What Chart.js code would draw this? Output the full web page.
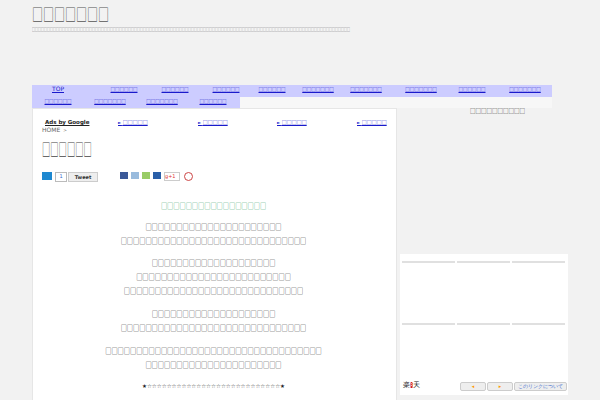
<!DOCTYPE html>
<html><head><meta charset="utf-8">
<script src="https://cdn.jsdelivr.net/npm/chart.js"></script>
<style>
body{margin:0;width:600px;height:400px;overflow:hidden;background:#f2f2f2;font-family:"DejaVu Sans",sans-serif;position:relative}
.a{position:absolute;white-space:nowrap}
.j{font-family:"Noto Sans CJK JP";line-height:1}
.nav{position:absolute;left:32px;top:85px;width:520px;height:23px;background:#ccccff}
.nav2{position:absolute;left:240px;top:97px;width:312px;height:11px;background:#f7f7f7}
.ni{position:absolute;font-size:4.5px;color:#1a1acc;text-decoration:underline;transform:translateX(-50%);font-family:"Noto Sans CJK JP";line-height:1;white-space:nowrap}
.main{position:absolute;left:32px;top:108px;width:363px;height:292px;background:#fff;border:1px solid #e6e6e6}
.c{position:absolute;left:32px;width:363px;text-align:center;font-size:6.2px;color:#222;font-family:"Noto Sans CJK JP";line-height:1;transform:scaleY(1.35);transform-origin:top}
.cell{position:absolute;height:2px;background:#e0e0e0;width:53px}
.btn{position:absolute;top:382px;height:7px;border:1px solid #ccc;background:#eee;border-radius:2px;font-size:5px;color:#36c;text-align:center;line-height:7px}
</style></head><body>
<div class="a j" style="left:32px;top:6px;font-size:11px;color:#555;transform:scaleY(1.5);transform-origin:top">□□□□□□□</div>
<div class="a j" style="left:32px;top:28px;font-size:3px;color:#777;transform:scaleY(1.6);transform-origin:top">□□□□□□□□□□□□□□□□□□□□□□□□□□□□□□□□□□□□□□□□□□□□□□□□□□□□□□□□□□□□□□□□□□□□□□□□□□□□□□□□□□□□□□□□□□□□□□□□□□□□□□□□□□</div>
<div class="nav"></div><div class="nav2"></div>
<div class="main"></div>
<div id="navs"></div>
<div class="a" style="left:45px;top:119px;font-size:5.5px;font-weight:bold;text-decoration:underline;color:#222">Ads by Google</div>
<div id="ads"></div>
<div class="a" style="left:42px;top:126px;font-size:6px;color:#666">HOME ＞</div>
<div class="a j" style="left:42px;top:140px;font-size:8.3px;color:#444;transform:scaleY(2);transform-origin:top">□□□□□□</div>
<div class="a" style="left:42px;top:172px;width:10px;height:8px;background:#1e88d0"></div>
<div class="a" style="left:55px;top:172px;width:10px;height:8px;border:1px solid #bbb;font-size:5px;text-align:center;color:#36c">1</div>
<div class="a" style="left:68px;top:172px;width:28px;height:8px;border:1px solid #ccc;background:#eee;font-size:5px;font-weight:bold;color:#333;text-align:center;line-height:8px">Tweet</div>
<div class="a" style="left:120px;top:172px;width:8px;height:7px;background:#3b5998"></div>
<div class="a" style="left:131px;top:172px;width:8px;height:7px;background:#9bd"></div>
<div class="a" style="left:142px;top:172px;width:8px;height:7px;background:#9c6"></div>
<div class="a" style="left:153px;top:172px;width:8px;height:7px;background:#2a5fa8"></div>
<div class="a" style="left:164px;top:172px;width:14px;height:7px;border:1px solid #ccc;font-size:5px;color:#d33">g+1</div>
<div class="a" style="left:184px;top:172px;width:7px;height:7px;border-radius:50%;border:1px solid #c44"></div>
<div id="body"></div>
<div class="a j" style="left:470px;top:109px;font-size:5.5px;color:#333">□□□□□□□□□□</div>
<div class="a" style="left:400px;top:254px;width:168px;height:141px;background:#fff"></div>
<div id="cells"></div>
<div class="a" style="left:403px;top:380px;font-size:7px;color:#222">楽<span style="color:#fff;background:#c00;border-radius:50%;font-size:5px">R</span>天</div>
<div class="btn" style="left:460px;width:24px;color:#f90">◂</div>
<div class="btn" style="left:487px;width:24px;color:#f90">▸</div>
<div class="btn" style="left:514px;width:51px">このリンクについて</div>
<canvas id="cv" width="1" height="1" style="position:absolute;left:0;top:0;width:1px;height:1px"></canvas>
<script>
const navRow1=["TOP","□□□□□□","□□□□□□","□□□□□□","□□□□□□","□□□□□□□","□□□□□□□","□□□□□□□","□□□□□□","□□□□□□□"];
const navRow1X=[58,124,175,226,272,318,366,421,472,525];
const navRow2=["□□□□□□","□□□□□□□","□□□□□□□","□□□□□□"];
const navRow2X=[58,110,162,213];
const adLinks=["□□□□□","□□□□□","□□□□□","□□□□□"];
const adX=[118,198,277,357];
const bodyLines=[["□□□□□□□□□□□□□□□□□",206,"#2a9d5c"],["□□□□□□□□□□□□□□□□□□□□□□",227],["□□□□□□□□□□□□□□□□□□□□□□□□□□□□□□",241],["□□□□□□□□□□□□□□□□□□□□",263],["□□□□□□□□□□□□□□□□□□□□□□□□□",277],["□□□□□□□□□□□□□□□□□□□□□□□□□□□□□",291],["□□□□□□□□□□□□□□□□□□□□",314],["□□□□□□□□□□□□□□□□□□□□□□□□□□□□□□",328],["□□□□□□□□□□□□□□□□□□□□□□□□□□□□□□□□□□□",351],["□□□□□□□□□□□□□□□□□□□□□□",365],["★☆☆☆☆☆☆☆☆☆☆☆☆☆☆☆☆☆☆☆☆☆☆☆☆☆☆☆★",388]];
let h="";
navRow1.forEach((t,i)=>h+=`<div class="ni" style="left:${navRow1X[i]}px;top:87px;${i==0?'font-family:DejaVu Sans;font-size:6px;top:86px':''}">${t}</div>`);
navRow2.forEach((t,i)=>h+=`<div class="ni" style="left:${navRow2X[i]}px;top:99px">${t}</div>`);
document.getElementById('navs').innerHTML=h;
document.getElementById('ads').innerHTML=adLinks.map((t,i)=>`<div class="a" style="left:${adX[i]}px;top:119px;font-size:5px;color:#1a1acc;text-decoration:underline"><span style="font-size:4px">►</span> <span class="j">${t}</span></div>`).join("");
document.getElementById('body').innerHTML=bodyLines.map(l=>`<div class="c" style="top:${l[1]-4}px;color:${l[2]||'#222'};${l[0][0]=='★'?'font-family:DejaVu Sans;font-size:5.5px;transform:none':''}">${l[0]}</div>`).join("");
let c="";[402,457,512].forEach(x=>[261,323].forEach(y=>c+=`<div class="cell" style="left:${x}px;top:${y}px"></div>`));
document.getElementById('cells').innerHTML=c;
new Chart(document.getElementById('cv'),{type:'bar',data:{labels:[],datasets:[]},options:{responsive:false,animation:false,plugins:{legend:{display:false}},scales:{x:{display:false},y:{display:false}}}});
</script>
</body></html>
